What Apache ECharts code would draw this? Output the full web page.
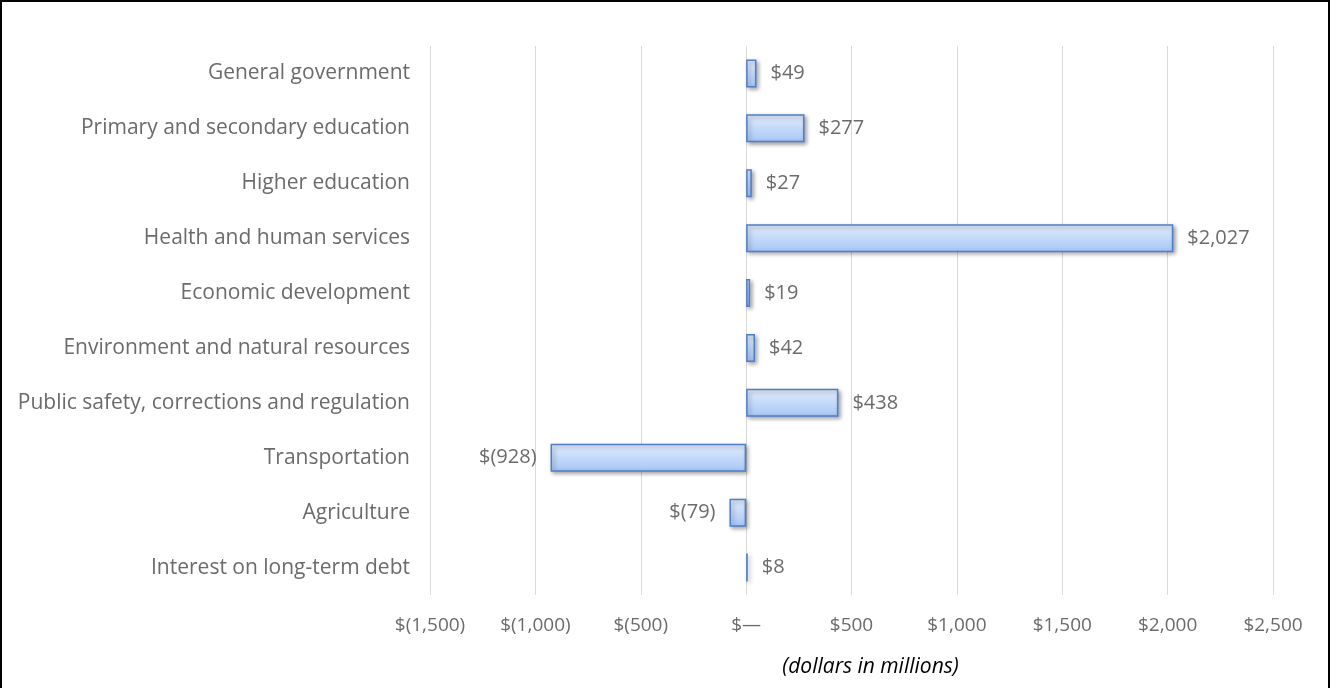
<!DOCTYPE html>
<html>
<head>
<meta charset="utf-8">
<script src="https://cdn.jsdelivr.net/npm/echarts@6/dist/echarts.min.js"></script>
<style>
  html, body { margin: 0; padding: 0; background: #fff; }
  #frame {
    position: absolute; left: 0; top: 0;
    width: 1326px; height: 700px;
    border: 2px solid #000;
  }
  #main { width: 1330px; height: 688px; }
</style>
</head>
<body>
<div id="main"></div>
<div id="frame"></div>
<script>
var categories = [
  "General government",
  "Primary and secondary education",
  "Higher education",
  "Health and human services",
  "Economic development",
  "Environment and natural resources",
  "Public safety, corrections and regulation",
  "Transportation",
  "Agriculture",
  "Interest on long-term debt"
];
var values = [49, 277, 27, 2027, 19, 42, 438, -928, -79, 8];

function money(v) {
  if (v === 0) return "$\u2014";
  var s = Math.abs(v).toString().replace(/\B(?=(\d{3})+(?!\d))/g, ",");
  return v < 0 ? "$(" + s + ")" : "$" + s;
}

var myChart = echarts.init(document.getElementById("main"));
var font = "Open Sans";
var option = {
  animation: false,
  grid: { left: 430, right: 57, top: 46, bottom: 93, containLabel: false },
  xAxis: {
    type: "value",
    min: -1500,
    max: 2500,
    interval: 500,
    axisLabel: {
      formatter: money,
      color: "#6b6b6b",
      fontFamily: font,
      fontSize: 19,
      margin: 21
    },
    axisLine: { show: false },
    axisTick: { show: false },
    splitLine: { lineStyle: { color: "#d9d9d9", width: 1 } },
    name: "(dollars in millions)",
    nameLocation: "middle",
    nameGap: 62,
    nameTextStyle: {
      color: "#000",
      fontFamily: font,
      fontSize: 21,
      fontStyle: "italic",
      padding: [0, 0, 0, 38]
    }
  },
  yAxis: {
    type: "category",
    inverse: true,
    data: categories,
    axisLine: { show: false },
    axisTick: { show: false },
    axisLabel: {
      color: "#6b6b6b",
      fontFamily: font,
      fontSize: 21,
      margin: 20
    }
  },
  series: [
    {
      type: "bar",
      barWidth: "51%",
      data: values.map(function (v) {
        return { value: v, label: { position: v < 0 ? "left" : "right" } };
      }),
      itemStyle: {
        color: {
          type: "linear", x: 0, y: 0, x2: 0, y2: 1,
          colorStops: [
            { offset: 0, color: "#e3edfd" },
            { offset: 1, color: "#a6c6f7" }
          ]
        },
        borderColor: "#4f7fc9",
        borderWidth: 1.5,
        shadowColor: "rgba(0,0,0,0.35)",
        shadowBlur: 4,
        shadowOffsetX: 2,
        shadowOffsetY: 2
      },
      label: {
        show: true,
        distance: 14,
        color: "#6b6b6b",
        fontFamily: font,
        fontSize: 20,
        formatter: function (p) { return money(p.value); }
      }
    }
  ]
};
myChart.setOption(option);
</script>
</body>
</html>
